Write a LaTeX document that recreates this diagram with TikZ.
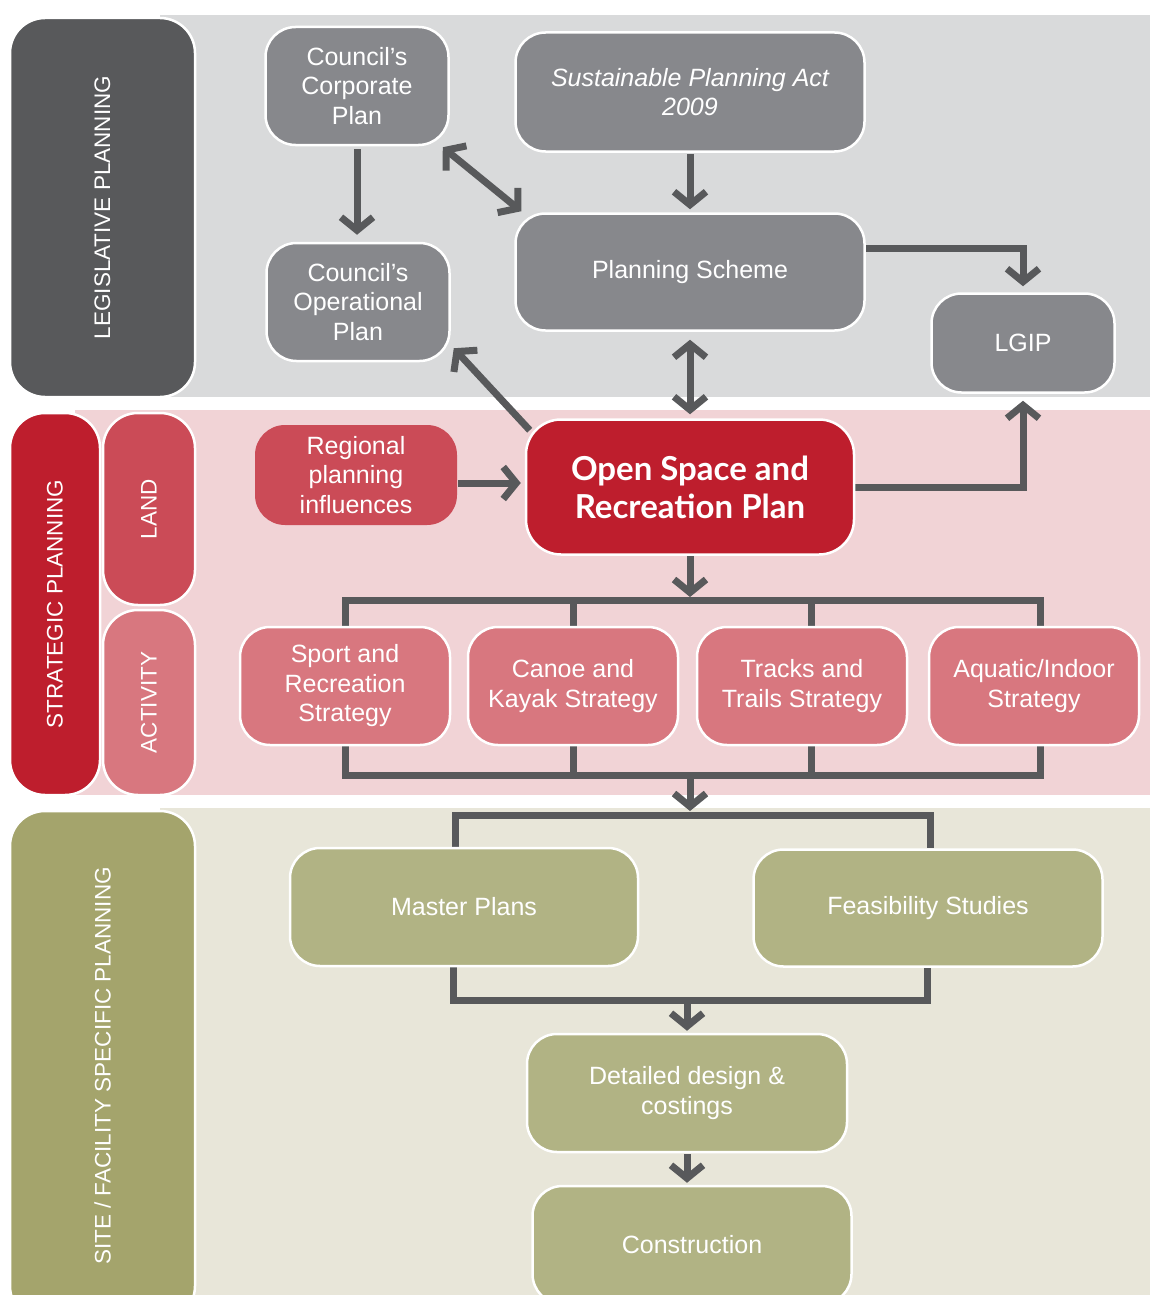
\documentclass[tikz,border=0pt]{standalone}
\usepackage{fontspec}
\setmainfont{Liberation Sans}
\newfontfamily\osfont{Lato}
\usetikzlibrary{arrows.meta,calc}
\definecolor{bandgrey}{HTML}{D9DADB}
\definecolor{bandpink}{HTML}{F1D3D6}
\definecolor{bandbeige}{HTML}{E8E6D9}
\definecolor{darklab}{HTML}{58595B}
\definecolor{nodegrey}{HTML}{87888C}
\definecolor{redmain}{HTML}{BE1E2D}
\definecolor{landcol}{HTML}{CB4B57}
\definecolor{actcol}{HTML}{D8777F}
\definecolor{olivelab}{HTML}{A4A46C}
\definecolor{olivenode}{HTML}{B1B384}
\definecolor{linecol}{HTML}{58595B}
\pgfdeclarelayer{bg}
\pgfdeclarelayer{mid}
\pgfsetlayers{bg,mid,main}
\begin{document}
\begin{tikzpicture}[x=1pt,y=-1pt,
  box/.style={rectangle, rounded corners=30pt, draw=white, line width=2.5pt, text=white, align=center,
    font=\fontsize{25}{29.5}\selectfont, inner sep=0pt},
  greybox/.style={box, fill=nodegrey},
  pinkbox/.style={box, fill=actcol},
  olivebox/.style={box, fill=olivenode},
  labbox/.style={rectangle, rounded corners=35pt, draw=white, line width=2.5pt, rotate=90, text=white,
    font=\fontsize{22.5}{27}\selectfont, inner sep=0pt},
  conn/.style={draw=linecol, line width=7pt},
  arr/.style={conn, -{Straight Barb[length=13pt,width=32pt]}},
  darr/.style={conn, {Straight Barb[length=13pt,width=32pt]}-{Straight Barb[length=13pt,width=32pt]}},
]
\useasboundingbox (0,0) rectangle (1150,1295);
\clip (0,0) rectangle (1150,1295);
\begin{pgfonlayer}{bg}
  \fill[white] (0,0) rectangle (1150,1295);
  \fill[bandgrey] (160,15) rectangle (1150,397);
  \fill[bandpink] (75,410) rectangle (1150,795);
  \fill[bandbeige] (160,808) rectangle (1150,1295);
\end{pgfonlayer}

% side labels
\node[labbox, fill=darklab, minimum width=379pt, minimum height=185pt] (leg) at (102.5,207.5) {LEGISLATIVE PLANNING};
\node[labbox, fill=redmain, minimum width=382pt, minimum height=90pt] (strat) at (55,604) {STRATEGIC PLANNING};
\node[labbox, fill=landcol, minimum width=192pt, minimum height=92pt] (land) at (149,509) {LAND};
\node[labbox, fill=actcol, minimum width=185pt, minimum height=92pt] (act) at (149,702.5) {ACTIVITY};
\node[labbox, fill=olivelab, minimum width=510pt, minimum height=185pt] (site) at (102.5,1066) {SITE / FACILITY SPECIFIC PLANNING};

% legislative nodes
\node[greybox, minimum width=183pt, minimum height=118pt] (corp) at (357,86) {Council’s\\Corporate\\Plan};
\node[greybox, minimum width=349pt, minimum height=119pt] (spa) at (690,92) {\itshape Sustainable Planning Act\\\itshape 2009};
\node[greybox, minimum width=183pt, minimum height=118pt] (oper) at (358,302) {Council’s\\Operational\\Plan};
\node[greybox, minimum width=349pt, minimum height=117pt] (ps) at (690,272) {Planning Scheme};
\node[greybox, minimum width=183pt, minimum height=99pt] (lgip) at (1023,343) {LGIP};

% strategic nodes
\node[box, fill=redmain, rounded corners=35pt, minimum width=328pt, minimum height=135pt,
  font=\osfont\bfseries\fontsize{33}{38}\selectfont] (osrp) at (690,487) {Open Space and\\Recreation Plan};
\node[box, draw=none, fill=landcol, minimum width=202pt, minimum height=100pt] (reg) at (356,475) {Regional\\planning\\influences};
\node[pinkbox, minimum width=210pt, minimum height=118pt] (sport) at (345,686) {Sport and\\Recreation\\Strategy};
\node[pinkbox, minimum width=210pt, minimum height=118pt] (canoe) at (573,686) {Canoe and\\Kayak Strategy};
\node[pinkbox, minimum width=210pt, minimum height=118pt] (tracks) at (802,686) {Tracks and\\Trails Strategy};
\node[pinkbox, minimum width=210pt, minimum height=118pt] (aqua) at (1034,686) {Aquatic/Indoor\\Strategy};

% site nodes
\node[olivebox, minimum width=348pt, minimum height=118pt] (master) at (464,907) {Master Plans};
\node[olivebox, minimum width=349pt, minimum height=117pt] (feas) at (928,908) {Feasibility Studies};
\node[olivebox, minimum width=320pt, minimum height=118pt] (det) at (687,1093) {Detailed design \&\\costings};
\node[olivebox, minimum width=319pt, minimum height=118pt] (cons) at (692,1245) {Construction};

% bus coordinates
\coordinate (b1) at (690,600);
\coordinate (b1t) at (811,600);
\coordinate (b1a) at (1040,600);
\coordinate (b2) at (690,775);
\coordinate (b2t) at (811,775);
\coordinate (b2a) at (1040,775);
\coordinate (b3) at (690,815);
\coordinate (b3l) at (455,815);
\coordinate (b3r) at (930,815);
\coordinate (b4) at (687,1000);
\coordinate (b4l) at (453,1000);
\coordinate (b4r) at (927,1000);

\begin{pgfonlayer}{mid}
  \draw[arr, shorten <=3pt, shorten >=7pt] (corp.south) -- (corp.south |- oper.north);
  \draw[darr] ($(corp.south east)+(-7,1)$) -- ($(ps.north west)+(7,-1)$);
  \draw[arr, shorten <=1pt, shorten >=3pt] (spa.south) -- (ps.north);
  \draw[arr, shorten >=6pt] ($(ps.east)+(0,-24)$) -| (lgip.north);
  \draw[darr, shorten <=8pt, shorten >=4pt] (ps.south) -- (osrp.north);
  \draw[arr] ($(osrp.north west)+(5,12)$) -- ($(oper.south east)+(3,-14)$);
  \draw[arr, shorten >=4pt] ($(reg.east)+(0,8)$) -- ($(osrp.west)+(0,-4)$);
  \draw[arr, shorten >=7pt] (osrp.east) -| (lgip.south);
  \draw[arr, shorten >=3pt] (osrp.south) -- (b1);
  \draw[conn] (sport.north) -- (sport.north |- b1) -- (b1a) -- (b1a |- aqua.north);
  \draw[conn] (canoe.north) -- (canoe.north |- b1);
  \draw[conn] (b1t |- tracks.north) -- (b1t);
  \draw[conn] (sport.south) -- (sport.south |- b2) -- (b2a) -- (b2a |- aqua.south);
  \draw[conn] (canoe.south) -- (canoe.south |- b2);
  \draw[conn] (b2t |- tracks.south) -- (b2t);
  \draw[arr, shorten >=4pt] (b2) -- (b3);
  \draw[conn] (b3l |- master.north) -- (b3l) -- (b3r) -- (b3r |- feas.north);
  \draw[conn] (b4l |- master.south) -- (b4l) -- (b4r) -- (b4r |- feas.south);
  \draw[arr, shorten >=2pt] (b4) -- (det.north);
  \draw[arr, shorten <=1pt, shorten >=2pt] (det.south) -- (det.south |- cons.north);
\end{pgfonlayer}
\end{tikzpicture}
\end{document}
